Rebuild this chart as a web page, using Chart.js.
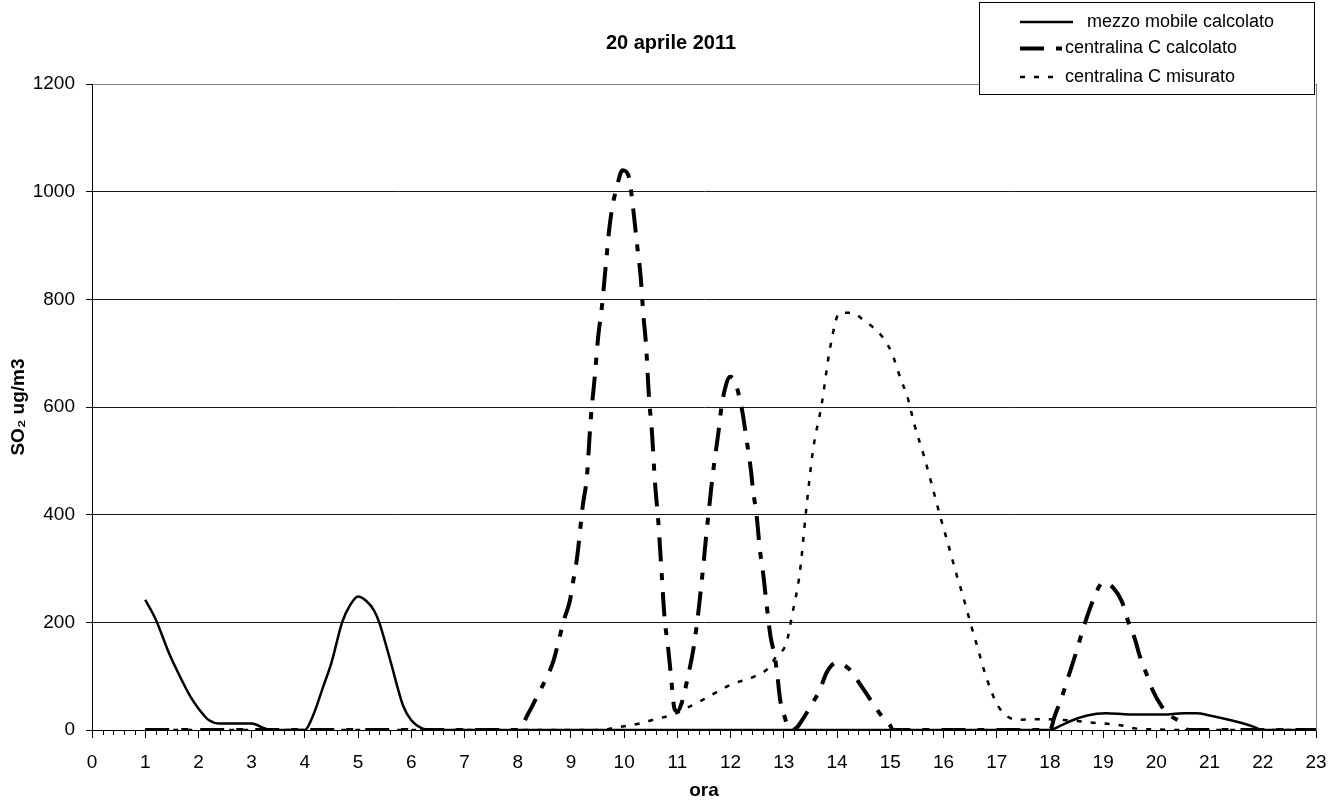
<!DOCTYPE html>
<html>
<head>
<meta charset="utf-8">
<script src="https://cdn.jsdelivr.net/npm/chart.js@4.4.1/dist/chart.umd.min.js"></script>
<style>
  html, body { margin: 0; padding: 0; background: #fff; }
  canvas { display: block; }
</style>
</head>
<body>
<canvas id="grafico" width="1342" height="800"></canvas>
<script>
const titolo = '20 aprile 2011';
const nomiSerie = ['mezzo mobile calcolato', 'centralina C calcolato', 'centralina C misurato'];
const tickY = [0, 200, 400, 600, 800, 1000, 1200];

// mezzo mobile calcolato
const oreMezzo = [1, 1.2, 1.45, 1.65, 1.85, 2.0, 2.2, 2.4, 3.0, 3.2, 3.35, 4.0, 4.15, 4.35, 4.5, 4.7, 4.85, 5.0,
  5.15, 5.3, 5.4, 5.6, 5.85, 6.0, 6.2, 6.35, 18.0, 18.2, 18.45, 18.7, 19.05, 19.5, 20.2, 20.5, 20.75, 21.0,
  21.4, 21.8, 22.0, 23];
const valMezzo = [242, 205, 142, 100, 62, 40, 18, 12, 12, 5, 0, 0, 26, 82, 125, 200, 232, 248,
  240, 222, 199, 131, 44, 18, 3, 0, 0, 8, 19, 27, 31, 29, 29, 31, 31, 27,
  18, 7, 0, 0];

// centralina C calcolato
const oreCalc = [1, 8.0, 8.2, 8.38, 8.53, 8.67, 8.78, 8.87, 8.98, 9.04, 9.12, 9.22, 9.3, 9.37, 9.45, 9.51,
  9.58, 9.66, 9.72, 9.78, 9.86, 9.97, 10.08, 10.17, 10.23, 10.31, 10.36, 10.41, 10.47, 10.52, 10.58, 10.64,
  10.7, 10.76, 10.82, 10.87, 10.95, 11.0, 11.08, 11.2, 11.3, 11.37, 11.42, 11.48, 11.54, 11.58, 11.64, 11.7,
  11.77, 11.83, 11.89, 11.99, 12.08, 12.16, 12.23, 12.29, 12.38, 12.42, 12.49, 12.55, 12.61, 12.68, 12.75,
  12.83, 12.88, 12.93, 13.02, 13.08, 13.15, 13.25, 13.33, 13.52, 13.68, 13.8, 13.99, 14.1, 14.24, 14.46,
  14.65, 14.84, 14.99, 15.05, 18.0, 18.09, 18.22, 18.35, 18.47, 18.66, 18.79, 18.91, 19.0, 19.19, 19.35,
  19.47, 19.6, 19.69, 19.82, 19.94, 20.1, 20.23, 20.48, 20.6, 23];
const valCalc = [0, 0, 31, 66, 95, 128, 170, 205, 240, 275, 324, 415, 471, 575, 659, 729,
  785, 869, 931, 973, 1008, 1040, 1030, 968, 912, 842, 772, 716, 612, 556, 458, 389,
  298, 207, 158, 110, 38, 35, 50, 100, 150, 199, 242, 298, 360, 397, 453, 502,
  552, 601, 632, 656, 648, 620, 586, 546, 484, 447, 397, 335, 292, 230, 174,
  137, 100, 57, 23, 5, 0, 5, 16, 47, 75, 106, 125, 122, 112, 81,
  53, 26, 10, 0, 0, 26, 60, 100, 137, 199, 236, 264, 274, 264, 239,
  202, 168, 137, 103, 72, 44, 29, 13, 0, 0];

// centralina C misurato
const oreMis = [1, 9.6, 9.85, 10.0, 10.33, 10.58, 10.9, 11.2, 11.55, 12.0, 12.46, 12.71, 12.86, 13.05, 13.15,
  13.3, 13.42, 13.55, 13.71, 13.87, 14.05, 14.27, 14.49, 14.87, 15.03, 15.21, 15.31, 15.46, 15.63, 15.78,
  15.93, 16.1, 16.25, 16.34, 16.5, 16.65, 16.75, 16.91, 17.03, 17.19, 17.38, 17.82, 18.2, 18.88, 19.32,
  19.6, 20.0, 20.5, 23];
const valMis = [0, 0, 5, 7, 13, 20, 28, 42, 60, 84, 100, 115, 137, 162, 211,
  292, 409, 521, 604, 710, 775, 775, 762, 728, 700, 648, 623, 565, 510, 456,
  400, 341, 287, 258, 201, 150, 115, 69, 44, 26, 19, 20, 19, 13, 9,
  3, 1, 0, 0];

const punti = (ore, val) => ore.map((h, i) => ({ x: h, y: val[i] }));

const FONT = '"Liberation Sans", Arial, sans-serif';
Chart.defaults.font.family = FONT;
Chart.defaults.color = '#000';

// piccole tacche ogni 12 minuti sull'asse delle ore
const tacchePlugin = {
  id: 'tacche',
  afterDraw(chart) {
    const x = chart.scales.x;
    const ctx = chart.ctx;
    ctx.save();
    ctx.strokeStyle = '#000';
    ctx.lineWidth = 1;
    ctx.beginPath();
    for (let i = 0; i <= 23 * 5; i++) {
      if (i % 5 === 0) continue;
      const px = Math.round(x.getPixelForValue(i / 5)) + 0.5;
      ctx.moveTo(px, x.top);
      ctx.lineTo(px, x.top + 5);
    }
    ctx.stroke();
    ctx.restore();
  }
};

// legenda nel riquadro in alto a destra
const legendaPlugin = {
  id: 'legendaBox',
  afterDraw(chart) {
    const ctx = chart.ctx;
    const righe = [
      { y: 22, lung: 53, testoX: 1087 },
      { y: 48.5, lung: 42, testoX: 1065 },
      { y: 77, lung: 42, testoX: 1065 }
    ];
    ctx.save();
    ctx.fillStyle = '#fff';
    ctx.fillRect(979.5, 2.5, 335, 92);
    ctx.strokeStyle = '#000';
    ctx.lineWidth = 1;
    ctx.strokeRect(979.5, 2.5, 335, 92);
    chart.data.datasets.forEach((ds, i) => {
      const r = righe[i];
      ctx.beginPath();
      ctx.strokeStyle = ds.borderColor;
      ctx.lineWidth = ds.borderWidth;
      ctx.setLineDash(ds.borderDash || []);
      ctx.moveTo(1020, r.y);
      ctx.lineTo(1020 + r.lung, r.y);
      ctx.stroke();
      ctx.setLineDash([]);
      ctx.fillStyle = '#000';
      ctx.font = '18px ' + FONT;
      ctx.textBaseline = 'middle';
      ctx.textAlign = 'left';
      ctx.fillText(ds.label, r.testoX, r.y);
    });
    ctx.restore();
  }
};

new Chart(document.getElementById('grafico'), {
  type: 'line',
  data: {
    datasets: [
      {
        label: nomiSerie[0],
        data: punti(oreMezzo, valMezzo),
        borderColor: '#000',
        borderWidth: 2.5,
        pointRadius: 0,
        cubicInterpolationMode: 'monotone'
      },
      {
        label: nomiSerie[1],
        data: punti(oreCalc, valCalc),
        borderColor: '#000',
        borderWidth: 4,
        borderDash: [24, 12, 7, 12],
        pointRadius: 0,
        cubicInterpolationMode: 'monotone'
      },
      {
        label: nomiSerie[2],
        data: punti(oreMis, valMis),
        borderColor: '#000',
        borderWidth: 2.5,
        borderDash: [5, 9],
        pointRadius: 0,
        cubicInterpolationMode: 'monotone'
      }
    ]
  },
  options: {
    responsive: false,
    animation: false,
    layout: { padding: 0 },
    plugins: {
      legend: { display: false },
      tooltip: { enabled: false },
      title: {
        display: true,
        text: titolo,
        color: '#000',
        font: { size: 20, weight: 'bold', lineHeight: 1 },
        padding: { top: 33, bottom: 31 }
      }
    },
    scales: {
      x: {
        type: 'linear',
        min: 0,
        max: 23,
        ticks: {
          stepSize: 1,
          autoSkip: false,
          maxRotation: 0,
          padding: 13,
          color: '#000',
          font: { size: 19 },
          callback: v => String(v)
        },
        grid: { drawOnChartArea: false, tickLength: 8, tickColor: '#000' },
        border: { color: '#000' },
        title: {
          display: true,
          text: 'ora',
          color: '#000',
          font: { size: 19, weight: 'bold', lineHeight: 1 },
          padding: { top: 0, bottom: 0 }
        },
        afterFit(scale) { scale.height = 70; }
      },
      y: {
        min: 0,
        max: 1200,
        afterBuildTicks(scale) { scale.ticks = tickY.map(v => ({ value: v })); },
        ticks: { padding: 11, color: '#000', font: { size: 19 }, callback: v => String(v) },
        grid: {
          color: ctx => (ctx.tick && ctx.tick.value === 1200 ? '#808080' : '#1a1a1a'),
          tickColor: '#000',
          tickLength: 6
        },
        border: { color: '#000' },
        title: {
          display: true,
          text: 'SO₂ ug/m3',
          color: '#000',
          font: { size: 19, weight: 'bold', lineHeight: 1 },
          padding: { top: 9, bottom: 0 }
        },
        afterFit(scale) { scale.width = 92; }
      },
      y2: {
        position: 'right',
        min: 0,
        max: 1200,
        ticks: { display: false },
        grid: { drawOnChartArea: false, drawTicks: false },
        border: { color: '#808080' },
        afterFit(scale) { scale.width = 26; }
      }
    }
  },
  plugins: [tacchePlugin, legendaPlugin]
});
</script>
</body>
</html>
